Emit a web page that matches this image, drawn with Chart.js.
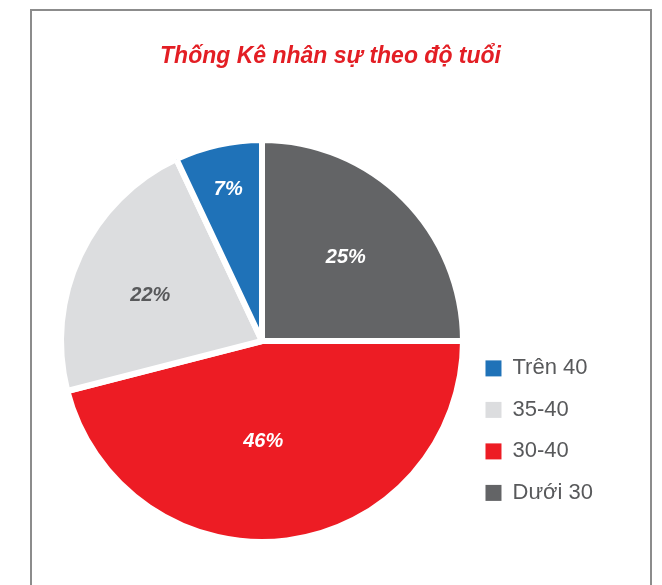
<!DOCTYPE html>
<html lang="vi">
<head>
<meta charset="utf-8">
<title>Thống Kê nhân sự theo độ tuổi</title>
<script src="https://cdn.jsdelivr.net/npm/chart.js@4.4.1/dist/chart.umd.min.js"></script>
<style>
  html, body { margin: 0; padding: 0; background: #fff; overflow: hidden; }
  #frame {
    position: absolute; left: 30px; top: 9px; width: 618px; height: 600px;
    border: 2px solid #8c8c8c; border-bottom: none;
  }
  #ageChart { position: absolute; left: 0; top: 0; }
</style>
</head>
<body>
<div id="frame"></div>
<canvas id="ageChart" width="662" height="585"></canvas>
<script>
/* Staff by age group - pie chart */

const ageGroups = ['Dưới 30', '30-40', '35-40', 'Trên 40'];
const sharePercent = [25, 46, 22, 7];

const sliceColors = ['#636466', '#ed1c24', '#dcdddf', '#1f72b8'];
const labelColors = ['#ffffff', '#ffffff', '#58595b', '#ffffff'];
// where each percentage sits: fraction of the radius, and a turn (degrees) off the slice middle
const labelRadius = [0.59, 0.5, 0.6, 0.77];
const labelTurn = [0, 6.5, -3, 0];

const sansFont = "'Liberation Sans Narrow', 'Arial Narrow', 'Liberation Sans', Arial, sans-serif";

// percentage text inside each slice
const sliceLabels = {
  id: 'sliceLabels',
  afterDatasetsDraw(chart) {
    const ctx = chart.ctx;
    const meta = chart.getDatasetMeta(0);
    ctx.save();
    ctx.font = 'italic bold 20px ' + sansFont;
    ctx.textAlign = 'center';
    ctx.textBaseline = 'middle';
    meta.data.forEach((arc, i) => {
      const mid = (arc.startAngle + arc.endAngle) / 2 + labelTurn[i] * Math.PI / 180;
      const r = arc.outerRadius * labelRadius[i];
      ctx.fillStyle = labelColors[i];
      ctx.fillText(sharePercent[i] + '%', arc.x + Math.cos(mid) * r, arc.y + Math.sin(mid) * r);
    });
    ctx.restore();
  }
};

const ageGraph = document.getElementById('ageChart');

const ageConfig = {
  type: 'pie',
  data: {
    labels: ageGroups,
    datasets: [{
      data: sharePercent,
      backgroundColor: sliceColors,
      borderColor: '#ffffff',
      borderWidth: 6
    }]
  },
  options: {
    responsive: false,
    animation: false,
    layout: {
      padding: { left: 58, right: 59, top: 0, bottom: 39 }
    },
    plugins: {
      title: {
        display: true,
        text: 'Thống Kê nhân sự theo độ tuổi',
        color: '#e31e24',
        font: { family: sansFont, size: 23, weight: 'bold', style: 'italic' },
        padding: { top: 43, bottom: 65.4 }
      },
      legend: {
        position: 'right',
        align: 'start',
        fullSize: false,
        reverse: true,
        // blank title only pushes the entries down beside the lower half of the pie
        title: {
          display: true,
          text: ' ',
          font: { size: 12 },
          padding: { top: 187.5, bottom: 0 }
        },
        labels: {
          boxWidth: 16,
          boxHeight: 16,
          padding: 19.5,
          color: '#58595b',
          font: { family: sansFont, size: 22 },
          // plain squares, without the white slice border
          generateLabels(chart) {
            const items = Chart.overrides.pie.plugins.legend.labels.generateLabels(chart);
            items.forEach(item => { item.lineWidth = 0; });
            return items;
          }
        }
      },
      tooltip: { enabled: false }
    }
  },
  plugins: [sliceLabels]
};

new Chart(ageGraph, ageConfig);
</script>
</body>
</html>
